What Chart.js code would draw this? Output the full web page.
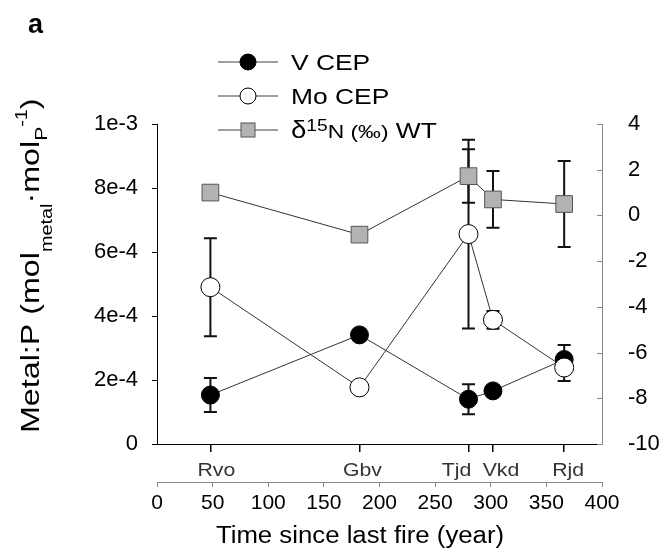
<!DOCTYPE html>
<html>
<head>
<meta charset="utf-8">
<script src="https://cdn.jsdelivr.net/npm/chart.js@4.4.1/dist/chart.umd.min.js"></script>
<style>
  html, body { margin: 0; padding: 0; background: #fff; }
  #wrap { position: relative; width: 663px; height: 558px; }
</style>
</head>
<body>
<div id="wrap"><canvas id="myChart" width="663" height="558"></canvas></div>
<script>
const FONT = '"Liberation Sans", Arial, sans-serif';

const sites = ['Rvo', 'Gbv', 'Tjd', 'Vkd', 'Rjd'];
const siteYears = [48, 182, 280, 302, 366];

const vCep = [1.53e-4, 3.41e-4, 1.40e-4, 1.66e-4, 2.64e-4];
const vCepErr = [0.53e-4, 0, 0.47e-4, 0, 0.45e-4];
const moCep = [4.90e-4, 1.77e-4, 6.56e-4, 3.88e-4, 2.39e-4];
const moCepErr = [1.53e-4, 0, 2.95e-4, 0.28e-4, 0.42e-4];
const d15n = [1.00, -0.84, 1.72, 0.70, 0.50];
const d15nErr = [0, 0, 1.17, 1.24, 1.88];

const metalTicks = [0, 2e-4, 4e-4, 6e-4, 8e-4, 1e-3];
const metalTickLabels = ['0', '2e-4', '4e-4', '6e-4', '8e-4', '1e-3'];

// small sideways nudge of the site names, in px (Tjd/Vkd sit close together)
const siteLabelNudge = [6, 3, -12, 8, 4];

const toPoints = vals => vals.map((v, i) => ({ x: siteYears[i], y: v }));

const ctx = document.getElementById('myChart').getContext('2d');

// error bars, drawn under the markers
const errorBars = {
  id: 'errorBars',
  beforeDatasetsDraw(chart) {
    const c = chart.ctx;
    const xs = chart.scales.x;
    c.save();
    c.strokeStyle = '#111';
    c.lineWidth = 2;
    chart.data.datasets.forEach(ds => {
      const ys = chart.scales[ds.yAxisID];
      ds.errors.forEach((e, i) => {
        if (!e) return;
        const px = xs.getPixelForValue(ds.data[i].x);
        const top = ys.getPixelForValue(ds.data[i].y + e);
        const bot = ys.getPixelForValue(ds.data[i].y - e);
        c.beginPath();
        c.moveTo(px, top); c.lineTo(px, bot);
        c.moveTo(px - 6.5, top); c.lineTo(px + 6.5, top);
        c.moveTo(px - 6.5, bot); c.lineTo(px + 6.5, bot);
        c.stroke();
      });
    });
    c.restore();
  }
};

function drawParts(c, parts) {
  let x = 0;
  parts.forEach(p => {
    c.font = p[1] + 'px ' + FONT;
    c.fillText(p[0], x, p[2]);
    x += c.measureText(p[0]).width;
  });
}

// legend, panel letter, site names, axis titles and inward ticks on the right axis
const extras = {
  id: 'extras',
  afterDraw(chart) {
    const c = chart.ctx;
    c.save();
    // inward ticks for right axis
    const y2 = chart.scales.y2;
    c.strokeStyle = '#888';
    c.lineWidth = 1;
    y2.ticks.forEach(t => {
      const py = Math.round(y2.getPixelForValue(t.value)) + 0.5;
      c.beginPath(); c.moveTo(y2.left - 5, py); c.lineTo(y2.left, py); c.stroke();
    });

    // site names under the site axis
    const sx = chart.scales.sites;
    c.fillStyle = '#333';
    c.textAlign = 'center';
    c.textBaseline = 'alphabetic';
    sites.forEach((name, i) => {
      c.save();
      c.translate(sx.getPixelForValue(siteYears[i]) + siteLabelNudge[i], 476);
      c.scale(1.12, 1);
      c.font = '19px ' + FONT;
      c.fillText(name, 0, 0);
      c.restore();
    });
    c.textAlign = 'left';

    // legend
    chart.data.datasets.forEach((ds, i) => {
      const y = 62 + i * 34;
      c.strokeStyle = '#a0a0a0';
      c.lineWidth = 2;
      c.beginPath(); c.moveTo(218, y); c.lineTo(278, y); c.stroke();
      c.fillStyle = ds.pointBackgroundColor;
      c.strokeStyle = ds.pointBorderColor;
      c.lineWidth = 1;
      if (ds.pointStyle === 'rect') {
        c.fillRect(241, y - 7, 14, 14);
        c.strokeRect(241, y - 7, 14, 14);
      } else {
        c.beginPath(); c.arc(248, y, 8, 0, Math.PI * 2); c.fill(); c.stroke();
      }
      c.save();
      c.translate(291, y + 8);
      c.scale(1.2, 1);
      c.fillStyle = '#000';
      drawParts(c, ds.legendParts);
      c.restore();
    });

    // panel letter
    c.fillStyle = '#000';
    c.font = 'bold 27px ' + FONT;
    c.fillText('a', 28, 33);

    // x title
    c.save();
    c.font = '23px ' + FONT;
    c.textAlign = 'center';
    c.translate(360, 543);
    c.scale(1.12, 1);
    c.fillText('Time since last fire (year)', 0, 0);
    c.restore();

    // y title
    c.save();
    c.translate(39, 433);
    c.rotate(-Math.PI / 2);
    c.scale(1.24, 1);
    drawParts(c, [
      ['Metal:P (mol', 26, 0],
      ['metal', 16, 13],
      ['\u00b7mol', 26, 0],
      ['P', 17, 8],
      ['-1', 16, -12],
      [')', 26, 0]
    ]);
    c.restore();
    c.restore();
  }
};

const config = {
  type: 'line',
  data: {
    datasets: [{
      label: 'V CEP',
      legendParts: [['V CEP', 22, 0]],
      data: toPoints(vCep),
      errors: vCepErr,
      yAxisID: 'y',
      xAxisID: 'x',
      order: 3,
      borderColor: '#333',
      borderWidth: 1,
      pointStyle: 'circle',
      pointRadius: 9,
      pointBackgroundColor: '#000',
      pointBorderColor: '#000',
      pointBorderWidth: 1
    }, {
      label: 'Mo CEP',
      legendParts: [['Mo CEP', 22, 0]],
      data: toPoints(moCep),
      errors: moCepErr,
      yAxisID: 'y',
      xAxisID: 'x',
      order: 2,
      borderColor: '#333',
      borderWidth: 1,
      pointStyle: 'circle',
      pointRadius: 9.5,
      pointBackgroundColor: '#fff',
      pointBorderColor: '#000',
      pointBorderWidth: 1
    }, {
      label: '\u03b415N (\u2030) WT',
      legendParts: [['\u03b4', 23, 0], ['15', 16, -7], ['N (\u2030)', 19, 0], [' WT', 22, 0]],
      data: toPoints(d15n),
      errors: d15nErr,
      yAxisID: 'y2',
      xAxisID: 'x',
      order: 1,
      borderColor: '#333',
      borderWidth: 1,
      pointStyle: 'rect',
      pointRadius: 11.8,
      pointBackgroundColor: '#b3b3b3',
      pointBorderColor: '#555',
      pointBorderWidth: 1
    }]
  },
  options: {
    responsive: false,
    animation: false,
    layout: { padding: { top: 124, left: 0, right: 0, bottom: 0 } },
    plugins: { legend: { display: false }, tooltip: { enabled: false } },
    scales: {
      sites: {
        type: 'linear',
        position: 'bottom',
        weight: 1,
        min: 0,
        max: 400,
        afterBuildTicks: s => { s.ticks = siteYears.map(v => ({ value: v })); },
        afterFit: s => { s.height = 38; },
        ticks: { display: false },
        grid: { drawOnChartArea: false, tickLength: 8, color: '#000', lineWidth: 1.5 },
        border: { color: '#000', width: 1 }
      },
      x: {
        type: 'linear',
        position: 'bottom',
        weight: 2,
        min: 0,
        max: 400,
        afterFit: s => { s.height = 76; },
        ticks: {
          stepSize: 50,
          autoSkip: false,
          maxRotation: 0,
          color: '#000',
          padding: 4,
          font: { size: 21, family: FONT }
        },
        grid: { drawOnChartArea: false, tickLength: 5, color: '#888' },
        border: { color: '#888', width: 1 }
      },
      y: {
        position: 'left',
        min: 0,
        max: 1e-3,
        afterBuildTicks: s => { s.ticks = metalTicks.map(v => ({ value: v })); },
        afterFit: s => { s.width = 157; },
        ticks: {
          callback: (v, i) => metalTickLabels[i],
          color: '#000',
          padding: 14,
          font: { size: 22, family: FONT }
        },
        grid: { drawOnChartArea: false, tickLength: 5, color: '#000' },
        border: { color: '#000', width: 1 }
      },
      y2: {
        position: 'right',
        min: -10,
        max: 4,
        afterFit: s => { s.width = 61; },
        ticks: {
          stepSize: 2,
          color: '#000',
          padding: 26,
          font: { size: 22, family: FONT }
        },
        grid: { drawOnChartArea: false, drawTicks: false },
        border: { color: '#888', width: 1 }
      }
    }
  },
  plugins: [errorBars, extras]
};

const myChart = new Chart(ctx, config);
</script>
</body>
</html>
